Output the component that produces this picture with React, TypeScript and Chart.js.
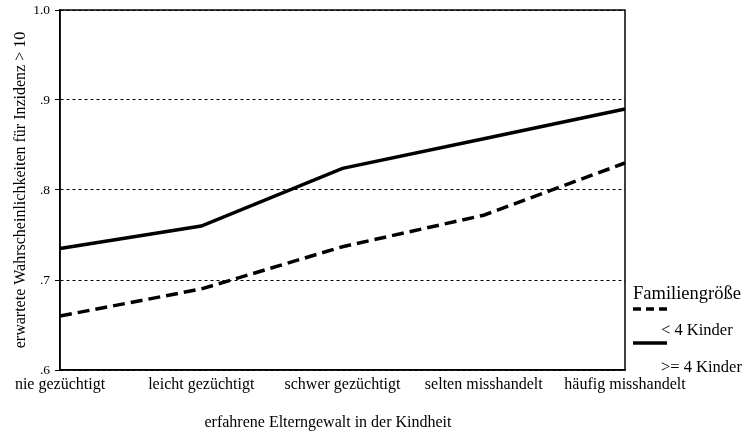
import React, { useEffect, useRef } from "react";
import { Chart, registerables } from "chart.js";

Chart.register(...registerables);

const categories = [
  "nie gezüchtigt",
  "leicht gezüchtigt",
  "schwer gezüchtigt",
  "selten misshandelt",
  "häufig misshandelt",
];
const lessThan4 = [0.66, 0.69, 0.737, 0.772, 0.83];
const atLeast4 = [0.735, 0.76, 0.824, 0.857, 0.89];
const seriesLabels = ["< 4 Kinder", ">= 4 Kinder"];
const legendTitle = "Familiengröße";
const yTitle = "erwartete Wahrscheinlichkeiten für Inzidenz > 10";
const xTitle = "erfahrene Elterngewalt in der Kindheit";

const SERIF = "'Liberation Serif', 'DejaVu Serif', serif";

const boxPlugin = {
  id: "boxAndLegend",
  afterDatasetsDraw(chart: any) {
    const { ctx, chartArea } = chart;
    ctx.save();
    ctx.strokeStyle = "#000";
    ctx.lineWidth = 1.5;
    ctx.setLineDash([]);
    ctx.strokeRect(chartArea.left, chartArea.top, chartArea.right - chartArea.left, chartArea.bottom - chartArea.top);

    // x-axis title
    ctx.fillStyle = "#000";
    ctx.textBaseline = "middle";
    ctx.textAlign = "center";
    ctx.font = `16px ${SERIF}`;
    ctx.fillText(xTitle, 328, 423);

    // legend
    const lx = chartArea.right + 8;
    ctx.textAlign = "left";
    ctx.font = `18.5px ${SERIF}`;
    ctx.fillText(legendTitle, lx, 294);
    const ds = chart.data.datasets;
    const rows = [
      { lineY: 309, textY: 331 },
      { lineY: 343, textY: 368 },
    ];
    ds.forEach((d: any, i: number) => {
      const r = rows[i];
      ctx.beginPath();
      ctx.lineWidth = d.borderWidth;
      ctx.setLineDash(d.borderDash && d.borderDash.length ? [8, 5] : []);
      ctx.moveTo(lx, r.lineY);
      ctx.lineTo(lx + 34, r.lineY);
      ctx.stroke();
      ctx.setLineDash([]);
      ctx.font = `16.5px ${SERIF}`;
      ctx.fillText(d.label, lx + 28, r.textY);
    });
    ctx.restore();
  },
};

export default function App() {
  const ref = useRef<HTMLCanvasElement | null>(null);
  useEffect(() => {
    if (!ref.current) return;
    const chart = new Chart(ref.current, {
      type: "line",
      data: {
        labels: categories,
        datasets: [
          {
            label: seriesLabels[0],
            data: lessThan4,
            borderColor: "#000",
            borderWidth: 3.5,
            borderDash: [12, 6],
            pointRadius: 0,
            tension: 0,
            fill: false,
          },
          {
            label: seriesLabels[1],
            data: atLeast4,
            borderColor: "#000",
            borderWidth: 3.5,
            pointRadius: 0,
            tension: 0,
            fill: false,
          },
        ],
      },
      options: {
        responsive: false,
        animation: false,
        layout: { padding: { top: 10, right: 122, bottom: 0, left: 11 } },
        plugins: {
          legend: { display: false },
          tooltip: { enabled: false },
        },
        scales: {
          x: {
            offset: false,
            grid: { display: false, drawTicks: false },
            border: { display: true, color: "#000", width: 1.5 },
            ticks: {
              autoSkip: false,
              maxRotation: 0,
              minRotation: 0,
              padding: 5,
              color: "#000",
              font: { family: SERIF, size: 16 },
            },
            title: { display: false, text: xTitle },
            afterFit(scale: any) {
              scale.height = 65;
              scale.paddingLeft = 0;
              scale.paddingRight = 0;
            },
          },
          y: {
            min: 0.6,
            max: 1.0,
            ticks: {
              stepSize: 0.1,
              padding: 5,
              color: "#000",
              font: { family: SERIF, size: 13.5 },
              callback: (v: any) => {
                const n = Math.round(Number(v) * 10);
                return n === 10 ? "1.0" : "." + n;
              },
            },
            grid: {
              color: "#000",
              lineWidth: 1,
              drawTicks: true,
              tickLength: 5,
              tickColor: "#000",
              tickBorderDash: [],
            },
            border: { display: true, color: "#000", width: 1.5, dash: [3, 3] },
            title: {
              display: true,
              text: yTitle,
              color: "#000",
              padding: { top: 0, bottom: 0 },
              font: { family: SERIF, size: 16 },
            },
            afterFit(scale: any) {
              scale.width = 49;
              scale.paddingTop = 0;
              scale.paddingBottom = 0;
            },
          },
        },
      },
      plugins: [boxPlugin],
    });
    return () => chart.destroy();
  }, []);
  return (
    <div style={{ position: "fixed", left: 0, top: 0, width: 747, height: 435, background: "#fff" }}>
      <canvas ref={ref} width={747} height={435} />
    </div>
  );
}
